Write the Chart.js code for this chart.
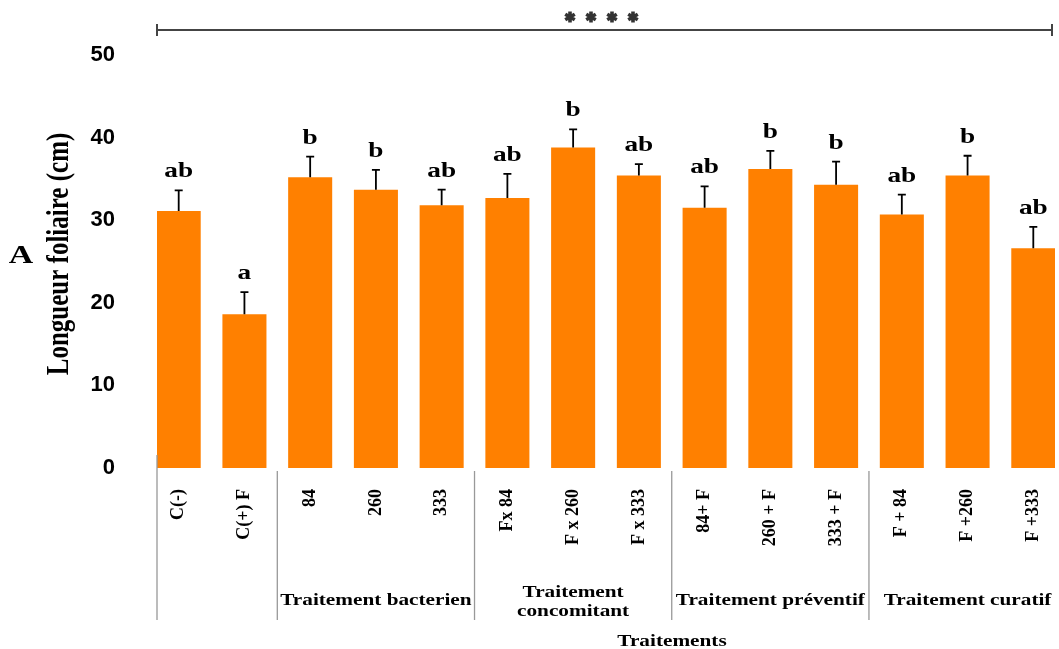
<!DOCTYPE html>
<html>
<head>
<meta charset="utf-8">
<script src="https://cdn.jsdelivr.net/npm/chart.js@4.4.1/dist/chart.umd.min.js"></script>
<style>
  body { margin: 0; background: #fff; }
  #wrap { width: 1059px; height: 649px; position: relative; }
</style>
</head>
<body>
<div id="wrap"><canvas id="barChart"></canvas></div>
<script>
const labels = ['C(-)', 'C(+) F', '84', '260', '333', 'Fx 84', 'F x 260', 'F x 333',
    '84+ F', '260 + F', '333 + F', 'F + 84', 'F +260', 'F +333'];
const means = [31.1, 18.6, 35.2, 33.7, 31.8, 32.7, 38.8, 35.4, 31.5, 36.2, 34.3, 30.7, 35.4, 26.6];
const errors = [2.5, 2.7, 2.5, 2.4, 1.9, 2.9, 2.2, 1.4, 2.6, 2.2, 2.8, 2.4, 2.4, 2.6];
const letters = ['ab', 'a', 'b', 'b', 'ab', 'ab', 'b', 'ab', 'ab', 'b', 'b', 'ab', 'b', 'ab'];
const groupNames = [['Traitement bacterien'], ['Traitement', 'concomitant'], ['Traitement préventif'], ['Traitement curatif']];
const groupCenters = [3, 6, 9, 12];
const separators = [1.5, 4.5, 7.5, 10.5];
const yTicks = [0, 10, 20, 30, 40, 50];

const serif = '"Liberation Serif", "Times New Roman", serif';
const sans = '"Liberation Sans", Arial, sans-serif';

// text is a bit wider in the original, so stretch it horizontally
function wideText(ctx, text, x, y, font, sx, align) {
    ctx.save();
    ctx.font = font;
    ctx.textAlign = align || 'center';
    ctx.translate(x, y);
    ctx.scale(sx, 1);
    ctx.fillText(text, 0, 0);
    ctx.restore();
}

function asterisk(ctx, cx, cy, r) {
    ctx.beginPath();
    for (let k = 0; k < 3; k++) {
        const a = Math.PI / 2 + k * Math.PI / 3;
        ctx.moveTo(cx + r * Math.cos(a), cy + r * Math.sin(a));
        ctx.lineTo(cx - r * Math.cos(a), cy - r * Math.sin(a));
    }
    ctx.stroke();
}

const extras = {
    id: 'extras',
    afterDatasetsDraw(chart) {
        const ctx = chart.ctx;
        const xs = chart.scales.x;
        const ys = chart.scales.y;
        const area = chart.chartArea;
        const bars = chart.getDatasetMeta(0).data;

        // error bars (upper only) and significance letters
        ctx.save();
        ctx.strokeStyle = '#000';
        ctx.lineWidth = 1.8;
        ctx.fillStyle = '#000';
        ctx.textBaseline = 'alphabetic';
        bars.forEach((bar, i) => {
            const top = ys.getPixelForValue(means[i] + errors[i]);
            ctx.beginPath();
            ctx.moveTo(bar.x, bar.y);
            ctx.lineTo(bar.x, top);
            ctx.moveTo(bar.x - 4, top);
            ctx.lineTo(bar.x + 4, top);
            ctx.stroke();
            wideText(ctx, letters[i], bar.x, top - 13, 'bold 21px ' + serif, 1.3);
        });
        ctx.restore();

        // bracket on top
        ctx.save();
        ctx.strokeStyle = '#444';
        ctx.lineWidth = 2;
        const bl = area.left, br = area.right - 3, by = 30;
        ctx.beginPath();
        ctx.moveTo(bl, by);
        ctx.lineTo(br, by);
        ctx.moveTo(bl, by - 6);
        ctx.lineTo(bl, by + 6);
        ctx.moveTo(br, by - 6);
        ctx.lineTo(br, by + 6);
        ctx.stroke();
        ctx.strokeStyle = '#333';
        ctx.lineWidth = 3.6;
        for (let k = 0; k < 4; k++) {
            asterisk(ctx, 570 + k * 21, 17, 5.5);
        }
        ctx.restore();

        // group separators and labels below the axis
        ctx.save();
        ctx.strokeStyle = '#999';
        ctx.lineWidth = 1.3;
        ctx.beginPath();
        ctx.moveTo(area.left, 455);
        ctx.lineTo(area.left, 620);
        separators.forEach(s => {
            const px = xs.getPixelForValue(s);
            ctx.moveTo(px, 471);
            ctx.lineTo(px, 620);
        });
        ctx.stroke();
        ctx.fillStyle = '#000';
        groupNames.forEach((lines, g) => {
            const cx = xs.getPixelForValue(groupCenters[g]);
            if (lines.length === 1) {
                wideText(ctx, lines[0], cx, 605, 'bold 17px ' + serif, 1.25);
            } else {
                wideText(ctx, lines[0], cx, 597, 'bold 17px ' + serif, 1.25);
                wideText(ctx, lines[1], cx, 616, 'bold 17px ' + serif, 1.25);
            }
        });
        wideText(ctx, 'Traitements', 672, 646, 'bold 17px ' + serif, 1.25);

        // y title and panel letter
        ctx.save();
        ctx.translate(68, 254);
        ctx.rotate(-Math.PI / 2);
        ctx.scale(1, 1.3);
        ctx.font = 'bold 25px ' + serif;
        ctx.textAlign = 'center';
        ctx.fillText('Longueur foliaire (cm)', 0, 0);
        ctx.restore();
        wideText(ctx, 'A', 21, 263, 'bold 26px ' + serif, 1.3);
        ctx.restore();
    }
};

new Chart(document.getElementById('barChart'), {
    type: 'bar',
    data: {
        datasets: [{
            data: means.map((v, i) => ({ x: i, y: v })),
            backgroundColor: '#FF8000',
            borderWidth: 0,
            barPercentage: 0.67,
            categoryPercentage: 1
        }]
    },
    options: {
        responsive: true,
        maintainAspectRatio: false,
        animation: false,
        layout: { padding: { top: 55, right: 4, left: 0, bottom: 0 } },
        plugins: {
            legend: { display: false },
            tooltip: { enabled: false }
        },
        scales: {
            x: {
                type: 'linear',
                min: -0.33,
                max: 13.33,
                offset: false,
                grid: { display: false },
                border: { display: false },
                afterBuildTicks: s => { s.ticks = labels.map((_, i) => ({ value: i })); },
                afterFit: s => { s.height = 181; s.paddingLeft = 0; s.paddingRight = 0; },
                ticks: {
                    autoSkip: false,
                    minRotation: 90,
                    maxRotation: 90,
                    padding: 13,
                    color: '#000',
                    font: { family: serif, size: 18, weight: 'bold' },
                    callback: v => labels[v]
                }
            },
            y: {
                min: 0,
                max: 50,
                grid: { display: false },
                border: { display: false },
                afterBuildTicks: s => { s.ticks = yTicks.map(v => ({ value: v })); },
                afterFit: s => { s.width = 157; s.paddingTop = 0; s.paddingBottom = 0; },
                ticks: {
                    padding: 34,
                    color: '#000',
                    font: { family: sans, size: 22, weight: 'bold' }
                }
            }
        }
    },
    plugins: [extras]
});
</script>
</body>
</html>
